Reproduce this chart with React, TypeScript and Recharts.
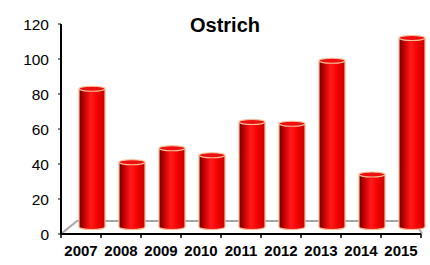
import { Bar, BarChart, XAxis, YAxis } from "recharts";

const years = ["2007", "2008", "2009", "2010", "2011", "2012", "2013", "2014", "2015"];
const counts = [83, 41, 49, 45, 64, 63, 99, 34, 112];
const yTicks = [0, 20, 40, 60, 80, 100, 120];

const data = years.map((year, i) => ({ year, count: counts[i] }));

const W = 430;
const H = 265;
const M = { top: 24, right: 9, left: 0, bottom: 0 };
const Y_W = 61;
const X_H = 31;
const plotLeft = M.left + Y_W;
const plotRight = W - M.right;
const plotBottom = H - M.bottom - X_H;
const band = (plotRight - plotLeft) / years.length;

const Cylinder = (props: any) => {
  const { x, y, width, height } = props;
  const left = x + 11;
  const rx = width / 2;
  const ry = 2.5;
  const right = left + width;
  const bottom = y + height - 7;
  return (
    <g>
      <path
        d={`M${left},${y} L${left},${bottom} A${rx},${ry} 0 0 0 ${right},${bottom} L${right},${y} Z`}
        fill="url(#cyl)"
        stroke="#f7bf95"
        strokeWidth={1.2}
      />
      <ellipse cx={left + rx} cy={y} rx={rx} ry={ry} fill="#ee1010" stroke="#f7bf95" strokeWidth={1.2} />
    </g>
  );
};

const XTick = (props: any) => {
  const { x, y, payload, index } = props;
  return (
    <g>
      <line x1={x - band / 2} y1={y} x2={x - band / 2} y2={y + 4} stroke="#000" strokeWidth={1.5} />
      {index === years.length - 1 && (
        <line x1={x + band / 2} y1={y} x2={x + band / 2} y2={y + 4} stroke="#000" strokeWidth={1.5} />
      )}
      <text
        x={x}
        y={y + 22}
        textAnchor="middle"
        style={{ fontSize: 15, fontWeight: "bold", fontFamily: "Liberation Sans, Arial, sans-serif" }}
        fill="#000"
      >
        {payload.value}
      </text>
    </g>
  );
};

export default function App() {
  return (
    <div style={{ position: "absolute", left: 0, top: 0, width: W, height: H, fontFamily: "Liberation Sans, Arial, sans-serif" }}>
      <svg width={W} height={H} style={{ position: "absolute", left: 0, top: 0 }}>
        <polyline
          points={`${plotLeft},${plotBottom} ${plotLeft + 16},${plotBottom - 13} ${plotRight - 6},${plotBottom - 13} ${plotRight + 1},${plotBottom}`}
          fill="none"
          stroke="#a6a6a6"
          strokeWidth={2}
        />
      </svg>
      <div style={{ position: "absolute", left: 0, top: 0 }}>
        <BarChart width={W} height={H} data={data} margin={M}>
          <defs>
            <linearGradient id="cyl" x1="0" y1="0" x2="1" y2="0">
              <stop offset="0%" stopColor="#6e0000" />
              <stop offset="20%" stopColor="#c40000" />
              <stop offset="45%" stopColor="#ff1a1a" />
              <stop offset="75%" stopColor="#f00000" />
              <stop offset="100%" stopColor="#c80000" />
            </linearGradient>
          </defs>
          <text x={225} y={32} textAnchor="middle" fontSize={20} fontWeight="bold" fill="#000">
            Ostrich
          </text>
          <XAxis
            dataKey="year"
            height={X_H}
            tickLine={false}
            tickSize={0}
            tickMargin={0}
            axisLine={{ stroke: "#000", strokeWidth: 2 }}
            tick={<XTick />}
            interval={0}
          />
          <YAxis
            width={Y_W}
            domain={[0, 120]}
            ticks={yTicks}
            tickSize={3}
            tickMargin={9}
            tickLine={{ stroke: "#000" }}
            axisLine={{ stroke: "#000", strokeWidth: 2 }}
            tick={{ fill: "#000", fontSize: 15.5 }}
          />
          <Bar dataKey="count" barSize={26} shape={<Cylinder />} isAnimationActive={false} />
        </BarChart>
      </div>
    </div>
  );
}
